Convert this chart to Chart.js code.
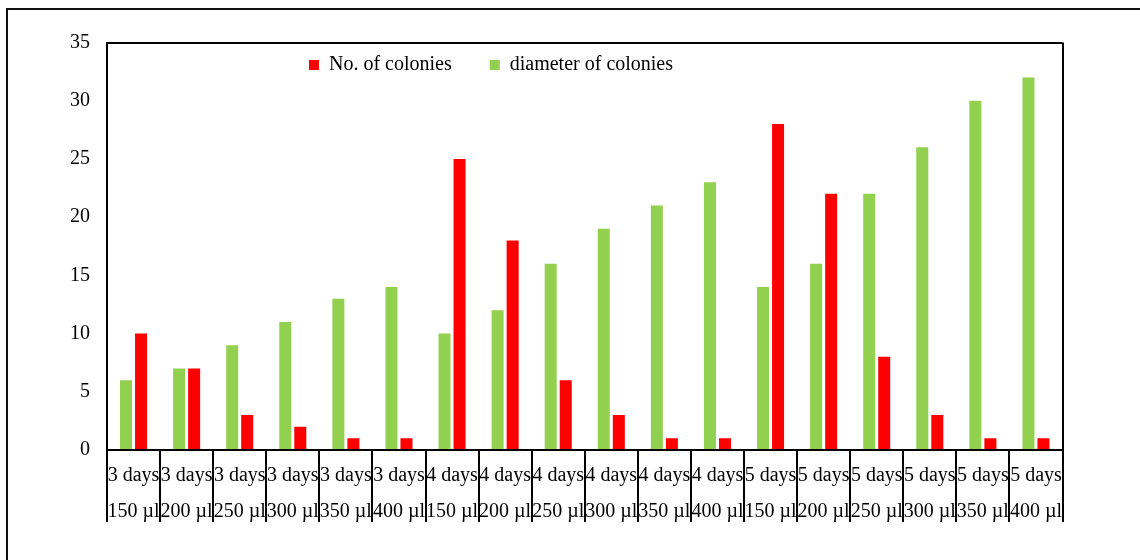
<!DOCTYPE html>
<html>
<head>
<meta charset="utf-8">
<script src="https://cdn.jsdelivr.net/npm/chart.js@4"></script>
<style>
  html, body { margin: 0; padding: 0; background: #fff; overflow: hidden; }
  #wrap { position: relative; width: 1140px; height: 560px; overflow: hidden; }
  #frame { position: absolute; left: 6px; top: 8px; width: 2000px; height: 2000px;
           border-left: 2px solid #111; border-top: 2px solid #111; }
  canvas { position: absolute; left: 0; top: 0; }
</style>
</head>
<body>
<div id="wrap">
  <div id="frame"></div>
  <canvas id="c" width="1140" height="560"></canvas>
</div>
<script>
const days = ['3 days','3 days','3 days','3 days','3 days','3 days',
              '4 days','4 days','4 days','4 days','4 days','4 days',
              '5 days','5 days','5 days','5 days','5 days','5 days'];
const volumes = ['150 µl','200 µl','250 µl','300 µl','350 µl','400 µl',
                 '150 µl','200 µl','250 µl','300 µl','350 µl','400 µl',
                 '150 µl','200 µl','250 µl','300 µl','350 µl','400 µl'];
const diameterOfColonies = [6, 7, 9, 11, 13, 14, 10, 12, 16, 19, 21, 23, 14, 16, 22, 26, 30, 32];
const numberOfColonies   = [10, 7, 3, 2, 1, 1, 25, 18, 6, 3, 1, 1, 28, 22, 8, 3, 1, 1];
const yTicksMin = 0, yTicksMax = 35, yTicksStep = 5;

const FONT = "'Times New Roman', 'Liberation Serif', serif";
const labels = days.map((d, i) => [d, volumes[i]]);

const legendPlacer = {
  id: 'legendPlacer',
  beforeDraw(chart) {
    const lg = chart.legend;
    if (!lg) return;
    lg.left = 271; lg.right = 1140;
    lg.top = 17; lg.bottom = 130;
  }
};

new Chart(document.getElementById('c'), {
  type: 'bar',
  data: {
    labels: labels,
    datasets: [
      { label: 'diameter of colonies', data: diameterOfColonies, backgroundColor: '#92D050',
        borderWidth: 0, categoryPercentage: 0.566, barPercentage: 0.8 },
      { label: 'No. of colonies', data: numberOfColonies, backgroundColor: '#FF0000',
        borderWidth: 0, categoryPercentage: 0.566, barPercentage: 0.8 }
    ]
  },
  options: {
    responsive: false,
    animation: false,
    devicePixelRatio: 1,
    layout: { padding: { top: 41.5, left: 0, right: 77.5, bottom: 0 } },
    plugins: {
      tooltip: { enabled: false },
      legend: {
        position: 'top',
        align: 'start',
        reverse: true,
        maxHeight: 1,
        labels: {
          boxWidth: 10, boxHeight: 10, padding: 38,
          color: '#000',
          font: { family: FONT, size: 20 }
        }
      }
    },
    scales: {
      x: {
        offset: true,
        grid: {
          offset: true,
          drawOnChartArea: true,
          color: (c) => (c.index === undefined ? '#000' : 'transparent'),
          lineWidth: 2,
          tickColor: '#000',
          tickWidth: 2,
          tickLength: 72
        },
        border: { display: true, color: '#000', width: 2 },
        ticks: {
          autoSkip: false, maxRotation: 0, minRotation: 0,
          color: '#000',
          padding: -64,
          font: { family: FONT, size: 20, lineHeight: 1.8 }
        },
        afterFit: (s) => { s.height = 110; }
      },
      y: {
        min: yTicksMin, max: yTicksMax,
        grid: {
          drawTicks: false,
          color: (c) => (c.tick && c.tick.value === yTicksMax ? '#000' : 'transparent'),
          lineWidth: 2
        },
        border: { display: true, color: '#000', width: 2 },
        ticks: {
          stepSize: yTicksStep,
          color: '#000',
          padding: 17,
          font: { family: FONT, size: 20 }
        },
        afterFit: (s) => { s.width = 107; }
      }
    }
  },
  plugins: [legendPlacer]
});
</script>
</body>
</html>
